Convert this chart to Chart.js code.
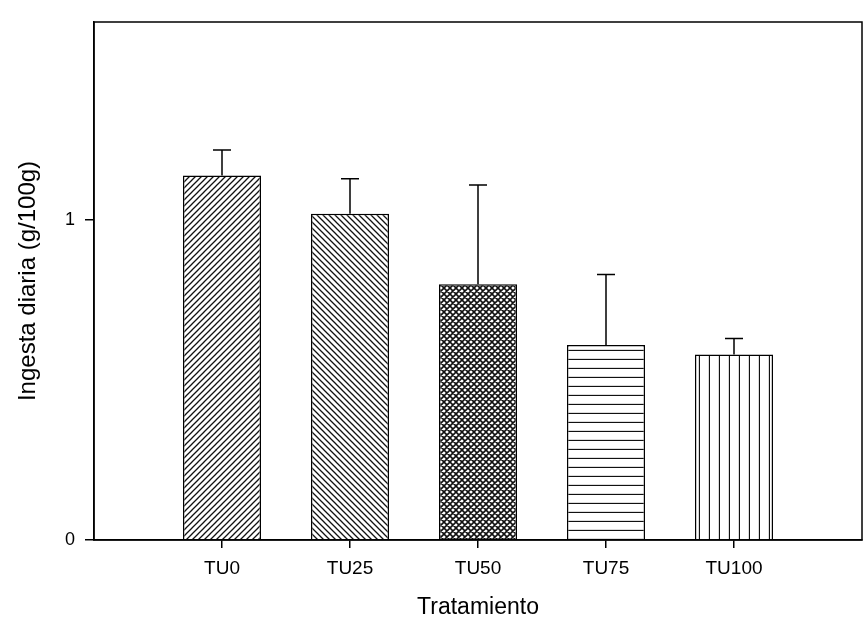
<!DOCTYPE html>
<html>
<head>
<meta charset="utf-8">
<script src="https://cdn.jsdelivr.net/npm/chart.js@4/dist/chart.umd.min.js"></script>
<style>
  body { margin: 0; background: #fff; }
  #wrap { width: 866px; height: 630px; }
</style>
</head>
<body>
<div id="wrap"><canvas id="ingestaChart" width="866" height="630"></canvas></div>
<script>
// categorias (con huecos a los lados para dejar espacio como en la figura)
const tratamientos = ['', 'TU0', 'TU25', 'TU50', 'TU75', 'TU100', ''];
const ingesta = [null, 1.14, 1.02, 0.80, 0.61, 0.58, null];
const errorEst = [null, 0.08, 0.11, 0.31, 0.22, 0.05, null];
const yTicks = [0, 1];
const yMax = 1.62;

// tramas para cada barra
function makePattern(tipo) {
  const s = tipo === 'horiz' ? 9 : tipo === 'vert' ? 10 : 6;
  const c = document.createElement('canvas');
  c.width = s; c.height = s;
  const g = c.getContext('2d');
  g.fillStyle = '#fff';
  g.fillRect(0, 0, s, s);
  g.strokeStyle = '#111';
  g.lineWidth = tipo === 'cross' ? 1.6 : 1.3;
  g.beginPath();
  if (tipo === 'slash' || tipo === 'cross') {
    g.moveTo(-1, s + 1); g.lineTo(s + 1, -1);
    g.moveTo(-1, 1); g.lineTo(1, -1);
    g.moveTo(s - 1, s + 1); g.lineTo(s + 1, s - 1);
  }
  if (tipo === 'back' || tipo === 'cross') {
    g.moveTo(-1, -1); g.lineTo(s + 1, s + 1);
    g.moveTo(s - 1, -1); g.lineTo(s + 1, 1);
    g.moveTo(-1, s - 1); g.lineTo(1, s + 1);
  }
  if (tipo === 'horiz') {
    g.moveTo(0, s - 0.5); g.lineTo(s, s - 0.5);
  }
  if (tipo === 'vert') {
    g.moveTo(s - 0.5, 0); g.lineTo(s - 0.5, s);
  }
  g.stroke();
  return g.createPattern(c, 'repeat');
}

const tramas = [null, makePattern('slash'), makePattern('back'), makePattern('cross'), makePattern('horiz'), makePattern('vert'), null];

// marco completo + barras de error
const marcoYErrores = {
  id: 'marcoYErrores',
  afterDatasetsDraw(chart) {
    const { ctx, chartArea, scales } = chart;
    const meta = chart.getDatasetMeta(0);
    ctx.save();
    ctx.strokeStyle = '#000';
    ctx.lineWidth = 1.5;
    meta.data.forEach((bar, i) => {
      if (ingesta[i] == null) return;
      const yTop = scales.y.getPixelForValue(ingesta[i] + errorEst[i]);
      ctx.beginPath();
      ctx.moveTo(bar.x, bar.y);
      ctx.lineTo(bar.x, yTop);
      ctx.moveTo(bar.x - 9, yTop);
      ctx.lineTo(bar.x + 9, yTop);
      ctx.stroke();
    });
    ctx.strokeRect(chartArea.left, chartArea.top, chartArea.right - chartArea.left, chartArea.bottom - chartArea.top);
    ctx.restore();
  }
};

const fuente = "'Liberation Sans', Arial, sans-serif";

new Chart(document.getElementById('ingestaChart').getContext('2d'), {
  type: 'bar',
  data: {
    labels: tratamientos,
    datasets: [{
      data: ingesta,
      backgroundColor: tramas,
      borderColor: '#000',
      borderWidth: 1.5,
      categoryPercentage: 1,
      barPercentage: 0.61
    }]
  },
  options: {
    responsive: false,
    animation: false,
    layout: { padding: { top: 22, right: 4, left: 0, bottom: 0 } },
    plugins: { legend: { display: false }, tooltip: { enabled: false } },
    scales: {
      x: {
        offset: false,
        grid: {
          offset: false,
          drawOnChartArea: false,
          tickLength: 8,
          color: ctx => (ctx.index === 0 || ctx.index === tratamientos.length - 1) ? 'rgba(0,0,0,0)' : '#000',
          lineWidth: 1.5
        },
        border: { color: '#000', width: 1.5 },
        ticks: { color: '#000', font: { family: fuente, size: 19 }, padding: 9, maxRotation: 0, autoSkip: false },
        title: { display: true, text: 'Tratamiento', color: '#000', font: { family: fuente, size: 23 }, padding: { top: 4, bottom: 9 } },
        afterFit: axis => { axis.height = 90; axis.paddingRight = 0; }
      },
      y: {
        min: 0,
        max: yMax,
        afterBuildTicks: axis => { axis.ticks = yTicks.map(v => ({ value: v })); },
        grid: { drawOnChartArea: false, tickLength: 9, color: '#000', lineWidth: 1.5 },
        border: { color: '#000', width: 1.5 },
        ticks: { color: '#000', font: { family: fuente, size: 18 }, padding: 10 },
        title: { display: true, text: 'Ingesta diaria (g/100g)', color: '#000', font: { family: fuente, size: 24 }, padding: { top: 14, bottom: 0 } },
        afterFit: axis => { axis.width = 94; }
      }
    }
  },
  plugins: [marcoYErrores]
});
</script>
</body>
</html>
